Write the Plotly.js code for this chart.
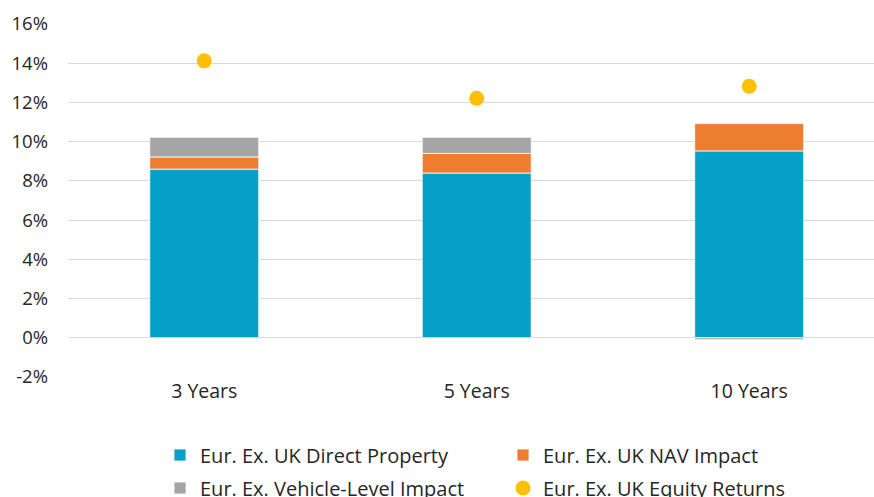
<!DOCTYPE html>
<html>
<head>
<meta charset="utf-8">
<script src="https://cdn.plot.ly/plotly-3.0.1.min.js"></script>
<style>html,body{margin:0;padding:0;background:#fff;}#chart{width:874px;height:497px;}</style>
</head>
<body>
<div id="chart"></div>
<script>
var categories = ["3 Years", "5 Years", "10 Years"];
var directProperty = [8.6, 8.4, 9.53];
var navImpact = [0.62, 1.0, 1.39];
var vehicleImpact = [1.0, 0.82, -0.1];
var equityReturns = [14.12, 12.21, 12.82];
var yTickVals = [-2, 0, 2, 4, 6, 8, 10, 12, 14, 16];
var yTickText = ["-2%", "0%", "2%", "4%", "6%", "8%", "10%", "12%", "14%", "16%"];

var xPos = categories.map(function (c, i) { return i; });
var font = "Open Sans, sans-serif";
var barLine = {color: "#ffffff", width: 0.8};

var traces = [
  {type: "bar", name: "Eur. Ex. UK Direct Property", x: xPos, y: directProperty, width: 0.4,
   marker: {color: "#05a1c8", line: barLine}, legend: "legend"},
  {type: "bar", name: "Eur. Ex. UK NAV Impact", x: xPos, y: navImpact, width: 0.4,
   marker: {color: "#ed7d31", line: barLine}, legend: "legend2"},
  {type: "bar", name: "Eur. Ex. Vehicle-Level Impact", x: xPos, y: vehicleImpact, width: 0.4,
   marker: {color: "#a5a5a5", line: barLine}, legend: "legend3"},
  {type: "scatter", mode: "markers", name: "Eur. Ex. UK Equity Returns", x: xPos, y: equityReturns,
   marker: {color: "#ffc000", size: 15}, legend: "legend4"}
];

function px2x(p) { return (p - 68) / 806; }
function px2y(p) { return (377 - p) / 353; }
function mkLegend(xp, yp) {
  return {
    orientation: "h", xanchor: "left", yanchor: "middle",
    x: px2x(xp), y: px2y(yp),
    font: {family: font, size: 20, color: "#262626"},
    bgcolor: "rgba(0,0,0,0)", borderwidth: 0, itemclick: false
  };
}

var layout = {
  width: 874, height: 497,
  margin: {l: 68, r: 0, t: 24, b: 120, autoexpand: false},
  paper_bgcolor: "#ffffff", plot_bgcolor: "#ffffff",
  barmode: "relative",
  showlegend: true,
  font: {family: font, size: 18, color: "#262626"},
  xaxis: {
    range: [-0.5, 2.458], tickmode: "array", tickvals: xPos, ticktext: categories,
    showgrid: false, zeroline: false, showline: false, ticks: "",
    tickfont: {family: font, size: 19.5, color: "#262626"}
  },
  yaxis: {
    range: [-2, 16], tickmode: "array", tickvals: yTickVals, ticktext: yTickText,
    showgrid: true, gridcolor: "#d9d9d9", gridwidth: 1,
    zeroline: true, zerolinecolor: "#d9d9d9", zerolinewidth: 1,
    showline: false, ticks: "", ticklabelstandoff: 19,
    tickfont: {family: font, size: 18.5, color: "#262626"}
  },
  legend: mkLegend(160, 455),
  legend2: mkLegend(503, 455),
  legend3: mkLegend(160, 488),
  legend4: mkLegend(503, 488)
};

Plotly.newPlot("chart", traces, layout, {staticPlot: true, displayModeBar: false});
</script>
</body>
</html>
